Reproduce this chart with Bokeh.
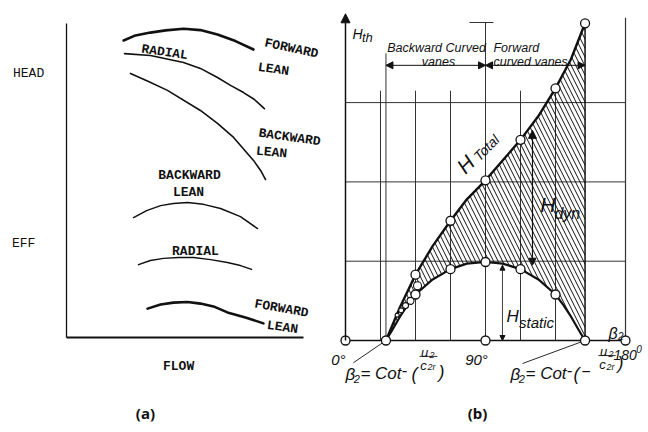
from bokeh.plotting import figure
from bokeh.models import Range1d, Arrow, NormalHead
from bokeh.core.properties import value
from bokeh.embed import file_html
from bokeh.resources import INLINE

# ---------------- Panel (a): fan characteristic curves (arbitrary units) -------------
head_fwd_x = [2.41, 2.91, 3.54, 4.18, 4.94, 5.65, 6.37, 7.13, 7.89]
head_fwd_y = [9.46, 9.62, 9.71, 9.78, 9.83, 9.79, 9.65, 9.44, 9.17]
head_rad_x = [2.45, 3.54, 4.94, 5.65, 6.37, 6.92, 7.47, 7.93, 8.35]
head_rad_y = [9.04, 8.98, 8.76, 8.57, 8.28, 8.03, 7.80, 7.58, 7.29]
head_bwd_x = [2.70, 3.46, 4.26, 5.65, 6.37, 7.05, 7.89, 8.19, 8.40]
head_bwd_y = [8.41, 8.15, 7.87, 7.23, 6.82, 6.37, 5.64, 5.32, 5.03]
eff_bwd_x = [2.83, 3.38, 3.97, 4.51, 5.11, 5.78, 6.50, 7.34, 8.06]
eff_bwd_y = [3.82, 4.04, 4.20, 4.27, 4.30, 4.24, 4.11, 3.85, 3.47]
eff_rad_x = [3.04, 3.54, 4.09, 4.73, 5.36, 6.08, 6.79, 7.34, 7.81]
eff_rad_y = [2.32, 2.45, 2.52, 2.55, 2.55, 2.48, 2.39, 2.29, 2.17]
eff_fwd_x = [3.42, 3.97, 4.51, 5.11, 5.65, 6.20, 6.79, 7.55, 8.31]
eff_fwd_y = [0.92, 1.05, 1.11, 1.13, 1.08, 0.99, 0.80, 0.64, 0.45]
axis_a_len = 10.0

# ---------------- Panel (b): theoretical head vs blade angle beta2 --------------------
beta_tot = [26, 35, 45, 56, 67.5, 78, 90, 101, 112.5, 124, 135, 145, 154]
H_tot = [0, 0.42, 0.83, 1.19, 1.51, 1.78, 2.02, 2.27, 2.53, 2.83, 3.18, 3.55, 4.0]
beta_stat = [26, 30, 35, 40, 45, 56, 67.5, 78, 90, 101, 112.5, 124, 135, 140, 145, 150, 154]
H_stat = [0, 0.13, 0.30, 0.45, 0.58, 0.77, 0.90, 0.97, 0.99, 0.97, 0.90, 0.77, 0.58, 0.45, 0.30, 0.13, 0]
circ_tot_b = [45, 67.5, 90, 112.5, 135, 154]
circ_tot_H = [0.83, 1.51, 2.02, 2.53, 3.18, 4.0]
circ_stat_b = [45, 67.5, 90, 112.5, 135]
circ_stat_H = [0.58, 0.90, 0.99, 0.90, 0.58]
circ_mid_b = [46.3, 41.8, 38.6, 35.8, 33.2]
circ_mid_H = [0.69, 0.50, 0.44, 0.38, 0.32]
circ_mid_s = [8, 7, 6, 5, 4]
circ_base_b = [0, 26, 90, 154, 180]
grid_H = [1, 2, 3]
grid_beta = [22.5, 45, 67.5, 112.5, 135]
beta_start, beta_end = 26, 154
H_top = 4.0

p = figure(width=648, height=432, x_range=Range1d(-2.785, 24.557),
           y_range=Range1d(-3.025, 10.732), output_backend="svg",
           toolbar_location=None, min_border=0,
           x_axis_location=None, y_axis_location=None)
p.outline_line_color = None
p.xgrid.visible = False
p.ygrid.visible = False
p.background_fill_color = "white"
p.border_fill_color = "white"
p.extra_x_ranges = {"beta": Range1d(-221.78, 194.78)}
p.extra_y_ranges = {"H": Range1d(-1.160, 4.2875)}
B = dict(x_range_name="beta", y_range_name="H")

INK = "#111111"
MONO = value("Liberation Mono")
SANS = value("Liberation Sans")

# ---- panel (a) ----
p.segment(x0=[0], y0=[0], x1=[0], y1=[axis_a_len], line_color=INK, line_width=1.3)
p.segment(x0=[0], y0=[0], x1=[axis_a_len], y1=[0], line_color=INK, line_width=2.2)
for xs, ys, w in [(head_fwd_x, head_fwd_y, 2.6), (head_rad_x, head_rad_y, 1.6),
                  (head_bwd_x, head_bwd_y, 1.6), (eff_bwd_x, eff_bwd_y, 1.5),
                  (eff_rad_x, eff_rad_y, 1.5), (eff_fwd_x, eff_fwd_y, 2.6)]:
    p.line(xs, ys, line_color=INK, line_width=w, line_join="round", line_cap="round")


def tx(x, y, t, size, angle=0, font=MONO, style="bold", align="center",
       baseline="middle", **kw):
    p.text(x=[x], y=[y], text=[t], angle=angle, angle_units="deg",
           text_font=font, text_font_style=style, text_font_size=f"{size}px",
           text_align=align, text_baseline=baseline, text_color=INK, **kw)


tx(-1.60, 8.41, "HEAD", 13, style="normal")
tx(-1.81, 2.99, "EFF", 13, style="normal")
tx(4.73, -0.92, "FLOW", 13)
tx(9.49, 9.20, "FORWARD", 13, angle=-12)
tx(8.73, 8.54, "LEAN", 13, angle=-8)
tx(4.14, 9.08, "RADIAL", 13, angle=-8)
tx(9.41, 6.37, "BACKWARD", 13, angle=-8)
tx(8.65, 5.89, "LEAN", 13, angle=-5)
tx(5.19, 5.16, "BACKWARD", 13)
tx(5.15, 4.62, "LEAN", 13)
tx(5.44, 2.74, "RADIAL", 13)
tx(9.07, 0.92, "FORWARD", 13, angle=-10)
tx(9.11, 0.32, "LEAN", 13, angle=-8)
tx(3.33, -2.39, "(a)", 15, font=value("Noto Sans"), style="bold")

# ---- panel (b) ----
GRID = "#333333"
p.segment(x0=[0] * 3, y0=grid_H, x1=[180] * 3, y1=grid_H, line_color=GRID, line_width=1, **B)
p.segment(x0=grid_beta, y0=[0] * 5, x1=grid_beta, y1=[3.15] * 5, line_color=GRID, line_width=1, **B)
p.segment(x0=[beta_start], y0=[0], x1=[beta_start], y1=[3.62], line_color=GRID, line_width=1, **B)
p.segment(x0=[90], y0=[0], x1=[90], y1=[4.01], line_color=GRID, line_width=1, **B)
p.segment(x0=[79.7], y0=[4.01], x1=[95.1], y1=[4.01], line_color=GRID, line_width=1, **B)
p.segment(x0=[180], y0=[0], x1=[180], y1=[4.07], line_color=GRID, line_width=1.2, **B)
p.segment(x0=[0], y0=[0], x1=[181], y1=[0], line_color=INK, line_width=1.4, **B)

# hatched dynamic-head region
hx = list(beta_tot) + list(reversed(beta_stat))
hy = list(H_tot) + list(reversed(H_stat))
p.patch(hx, hy, fill_color=None, line_color=None, hatch_pattern="\\",
        hatch_color=INK, hatch_scale=9, hatch_weight=1.0, **B)
p.segment(x0=[beta_end], y0=[0], x1=[beta_end], y1=[H_top], line_color=INK, line_width=1.5, **B)
p.line(beta_tot, H_tot, line_color=INK, line_width=2.4, line_join="round", **B)
p.line(beta_stat, H_stat, line_color=INK, line_width=2.2, line_join="round", **B)

# y axis arrow
p.add_layout(Arrow(end=NormalHead(size=9, fill_color=INK, line_color=INK),
                   x_start=0, y_start=0, x_end=0, y_end=4.12,
                   line_color=INK, line_width=1.5, **B))
# vane range arrows
for a, b in [(beta_start, 90), (90, beta_end)]:
    p.add_layout(Arrow(start=NormalHead(size=7, fill_color=INK, line_color=INK),
                       end=NormalHead(size=7, fill_color=INK, line_color=INK),
                       x_start=a, y_start=3.47, x_end=b, y_end=3.47,
                       line_color=INK, line_width=1, **B))
# H_dyn and H_static arrows
p.add_layout(Arrow(start=NormalHead(size=7, fill_color=INK, line_color=INK),
                   end=NormalHead(size=8, fill_color=INK, line_color=INK),
                   x_start=120.2, y_start=0.95, x_end=120.2, y_end=2.65,
                   line_color=INK, line_width=1.2, **B))
p.add_layout(Arrow(start=NormalHead(size=5, fill_color=INK, line_color=INK),
                   end=NormalHead(size=5, fill_color=INK, line_color=INK),
                   x_start=100.9, y_start=0.0, x_end=100.9, y_end=0.95,
                   line_color=INK, line_width=0.8, **B))

# leader lines
p.segment(x0=[beta_start, beta_end], y0=[0, 0], x1=[5.1, 113.8], y1=[-0.28, -0.29],
          line_color=INK, line_width=0.9, **B)
# fraction bars
p.segment(x0=[47.6, 162.6], y0=[-0.20, -0.19], x1=[59.1, 173.6], y1=[-0.20, -0.19],
          line_color=INK, line_width=0.9, **B)

# circles
p.scatter(circ_tot_b, circ_tot_H, size=9, marker="circle", fill_color="white",
          line_color=INK, line_width=1.3, **B)
p.scatter(circ_stat_b, circ_stat_H, size=9, marker="circle", fill_color="white",
          line_color=INK, line_width=1.3, **B)
p.scatter(circ_mid_b, circ_mid_H, size=circ_mid_s, marker="circle", fill_color="white",
          line_color=INK, line_width=1.1, **B)
p.scatter(circ_base_b, [0] * len(circ_base_b), size=9, marker="circle", fill_color="white",
          line_color=INK, line_width=1.3, **B)


def tb(x, y, t, size, angle=0, align="left", baseline="alphabetic", style="italic",
       font=SANS):
    tx(x, y, t, size, angle=angle, font=font, style=style, align=align,
       baseline=baseline, **B)


tb(4.5, 3.86, "H", 14)
tb(10.6, 3.82, "th", 13)
tb(58.5, 3.69, "Backward Curved", 12.5, align="center")
tb(59.8, 3.51, "vanes", 12.5, align="center")
tb(95.1, 3.69, "Forward", 12.5)
tb(95.1, 3.51, "curved vanes", 12.5)
tb(77.1, 2.22, "H", 21, angle=45, align="center", baseline="middle")
tb(90.6, 2.43, "Total", 14, angle=45, align="center", baseline="middle")
tb(130.0, 1.72, "H", 21, align="center", baseline="middle")
tb(142.6, 1.60, "dyn", 16, align="center", baseline="middle")
tb(107.4, 0.30, "H", 17, align="center", baseline="middle")
tb(122.8, 0.23, "static", 15, align="center", baseline="middle")
tb(169.1, 0.09, "β", 16)
tb(175.2, 0.06, "2", 10)
tb(0, -0.24, "0°", 15, align="right")
tb(84.2, -0.24, "90°", 15, align="center")
tb(172.3, -0.18, "180", 14)
tb(186.9, -0.11, "0", 10)
# formula 1:  beta2 = Cot^-1 ( u2 / c2r )
tb(0.0, -0.43, "β", 17)
tb(5.3, -0.48, "2", 11)
tb(9.6, -0.41, "= Cot", 17)
tb(36.0, -0.37, "-", 17)
tb(42.4, -0.42, "(", 18)
tb(50.8, -0.15, "u", 13, align="center")
tb(54.0, -0.18, "2", 9)
tb(50.1, -0.32, "c", 13, align="center")
tb(52.7, -0.34, "2r", 9)
tb(59.8, -0.40, ")", 18)
# formula 2:  beta2 = Cot^-1 ( - u2 / c2r )
tb(106.1, -0.43, "β", 17)
tb(111.4, -0.48, "2", 11)
tb(115.7, -0.42, "= Cot", 17)
tb(142.0, -0.37, "-", 17)
tb(146.5, -0.42, "(", 18)
tb(151.6, -0.39, "\u2212", 16)
tb(165.9, -0.14, "u", 13, align="center")
tb(169.1, -0.17, "2", 9)
tb(165.2, -0.30, "c", 13, align="center")
tb(167.8, -0.33, "2r", 9)
tb(174.9, -0.28, ")", 18)
tb(84.9, -0.91, "(b)", 15, align="center", baseline="middle", style="bold",
   font=value("Noto Sans"))

open("out.html", "w").write(file_html(p, INLINE))
